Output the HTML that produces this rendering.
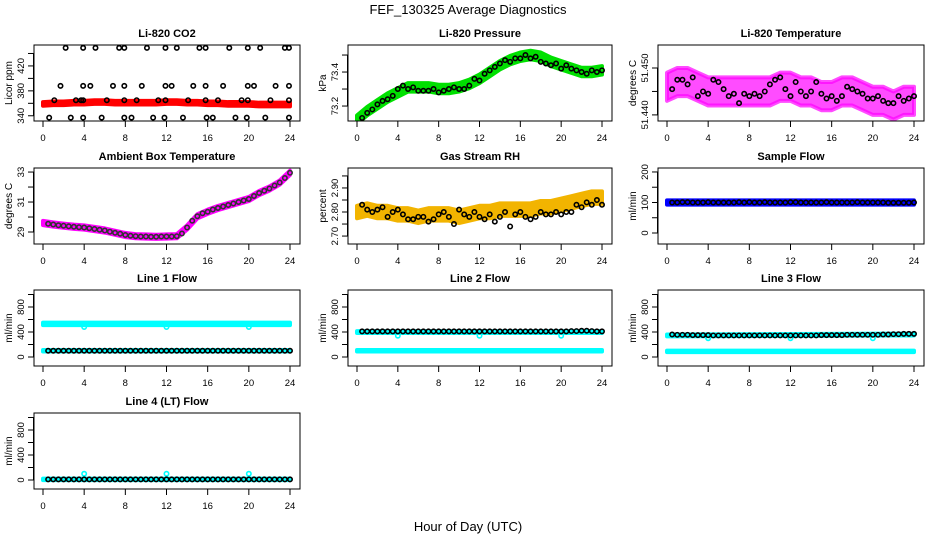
<!DOCTYPE html>
<html><head><meta charset="utf-8"><style>
html,body{margin:0;padding:0;background:#fff;}
svg{display:block;font-family:"Liberation Sans",sans-serif;}
</style></head><body>
<svg id="chart" width="936" height="540" viewBox="0 0 936 540">
<text x="468" y="14" text-anchor="middle" font-size="13">FEF_130325  Average Diagnostics</text>
<text x="468" y="531" text-anchor="middle" font-size="13">Hour of Day (UTC)</text>
</svg>
<script>
const hours=[0,1,2,3,4,5,6,7,8,9,10,11,12,13,14,15,16,17,18,19,20,21,22,23,24];
const halfHours=[0.5,1,1.5,2,2.5,3,3.5,4,4.5,5,5.5,6,6.5,7,7.5,8,8.5,9,9.5,10,10.5,11,11.5,12,12.5,13,13.5,14,14.5,15,15.5,16,16.5,17,17.5,18,18.5,19,19.5,20,20.5,21,21.5,22,22.5,23,23.5,24];
const xTicks=[0,4,8,12,16,20,24];
const endsT=[0,24];

const co2BandMid=[359,360,360,361,361,362,362,361,361,361,361,361,362,362,361,361,360,360,359,359,359,358,358,358,358];
const co2CircT=[2.2,3.9,5.1,7.4,7.9,10.1,11.9,13.0,15.2,15.8,18.1,19.9,21.1,23.5,23.9,1.7,3.9,4.6,6.8,7.9,9.6,11.9,12.5,14.6,15.8,17.5,19.9,20.5,22.6,23.9,1.1,3.2,3.7,3.9,6.2,7.9,9.1,11.2,11.9,14.1,15.8,17.0,19.3,19.9,22.1,23.9,0.6,2.7,3.9,5.7,7.9,8.6,10.7,11.8,13.6,15.9,16.5,18.7,19.8,21.6,23.9];
const co2CircV=[449,449,449,449,449,449,449,449,449,449,449,449,449,449,449,388,388,388,388,388,388,388,388,388,388,388,388,388,388,388,365,365,365,365,365,365,365,365,365,365,365,365,365,365,365,365,337,337,337,337,337,337,337,337,337,337,337,337,337,337,337];

const presBandMid=[73.12,73.17,73.21,73.25,73.28,73.31,73.31,73.31,73.30,73.30,73.31,73.33,73.36,73.40,73.44,73.47,73.49,73.50,73.49,73.46,73.44,73.42,73.40,73.40,73.41];
const presCircV=[73.13,73.16,73.18,73.21,73.23,73.24,73.26,73.30,73.32,73.30,73.31,73.29,73.29,73.29,73.30,73.28,73.29,73.30,73.31,73.30,73.30,73.32,73.36,73.35,73.39,73.41,73.43,73.45,73.47,73.46,73.48,73.48,73.50,73.48,73.49,73.46,73.45,73.44,73.45,73.42,73.44,73.42,73.41,73.40,73.39,73.41,73.40,73.41];

const tempBandMid=[51.446,51.447,51.447,51.446,51.445,51.445,51.445,51.445,51.445,51.445,51.445,51.446,51.446,51.445,51.445,51.444,51.444,51.445,51.445,51.444,51.443,51.443,51.442,51.443,51.443];
const tempCircV=[51.4455,51.4475,51.4475,51.4465,51.4480,51.4440,51.4450,51.4445,51.4475,51.4470,51.4455,51.4440,51.4445,51.4425,51.4445,51.4440,51.4445,51.4440,51.4450,51.4465,51.4475,51.4480,51.4455,51.4440,51.4470,51.4450,51.4440,51.4450,51.4470,51.4445,51.4435,51.4440,51.4430,51.4440,51.4460,51.4455,51.4450,51.4445,51.4435,51.4435,51.4440,51.4430,51.4425,51.4425,51.4440,51.4430,51.4435,51.4440];

const ambBandMid=[29.6,29.5,29.42,29.35,29.3,29.2,29.1,28.95,28.8,28.72,28.7,28.68,28.7,28.72,29.3,30.05,30.35,30.6,30.8,31.0,31.2,31.6,31.9,32.3,32.95];
const ambCircV=[29.55,29.5,29.45,29.42,29.38,29.35,29.32,29.3,29.25,29.2,29.15,29.1,29.02,28.95,28.88,28.8,28.75,28.72,28.7,28.7,28.68,28.68,28.7,28.7,28.7,28.72,28.9,29.3,29.75,30.05,30.25,30.35,30.5,30.6,30.7,30.8,30.9,31.0,31.1,31.2,31.4,31.6,31.75,31.9,32.1,32.3,32.6,32.95];

const rhBandMid=[2.80,2.81,2.80,2.80,2.79,2.79,2.78,2.79,2.79,2.79,2.78,2.79,2.80,2.80,2.81,2.81,2.81,2.81,2.82,2.82,2.83,2.84,2.85,2.86,2.86];
const rhCircV=[2.83,2.81,2.80,2.81,2.82,2.78,2.80,2.81,2.79,2.77,2.77,2.78,2.78,2.76,2.77,2.79,2.80,2.78,2.75,2.81,2.79,2.78,2.80,2.78,2.77,2.79,2.76,2.78,2.80,2.74,2.79,2.80,2.78,2.77,2.78,2.80,2.79,2.79,2.80,2.79,2.80,2.80,2.83,2.82,2.84,2.83,2.85,2.83];

const sampleBandMid=[100,100];
const sampleCircV=[100,100,101,101,100,100,100,101,100,100,100,100,100,101,100,101,100,100,101,100,100,100,100,101,101,100,100,100,100,100,101,100,100,100,100,100,101,100,100,100,100,100,99,99,99,99,99,100];

const line1HighMid=[530,530];
const line1LowMid=[100,100];
const line1CircV=[100,100,100,100,100,100,100,100,100,100,100,100,100,100,100,100,100,100,100,100,100,100,100,100,100,100,100,100,100,100,100,100,100,100,100,100,100,100,100,100,100,100,100,100,100,100,100,100];
const line1OutT=[4,12,20];
const line1OutV=[480,480,480];

const line2HighMid=[400,400];
const line2LowMid=[100,100];
const line2CircV=[410,410,410,410,410,410,410,410,410,410,410,410,410,410,410,410,410,410,410,410,410,410,410,410,410,410,410,410,410,410,410,410,410,410,410,410,410,410,410,410,410,415,415,420,420,415,410,410];
const line2OutT=[4,12,20];
const line2OutV=[340,340,340];

const line3HighMid=[345,360];
const line3LowMid=[90,90];
const line3CircV=[360,355,355,355,350,350,350,350,345,345,345,345,345,345,345,345,345,345,345,345,345,345,345,345,345,345,345,345,345,350,350,350,350,350,355,355,355,355,355,355,355,360,360,365,365,370,370,370];
const line3OutT=[4,12,20];
const line3OutV=[300,300,300];

const line4Mid=[10,10];
const line4CircV=[10,10,10,10,10,10,10,10,10,10,10,10,10,10,10,10,10,10,10,10,10,10,10,10,10,10,10,10,10,10,10,10,10,10,10,10,10,10,10,10,10,10,10,10,10,10,10,10];
const line4OutT=[4,12,20];
const line4OutV=[100,100,100];

const NS='http://www.w3.org/2000/svg';
const svg=document.getElementById('chart');
function mk(tag,attrs,parent){const e=document.createElementNS(NS,tag);for(const k in attrs)e.setAttribute(k,attrs[k]);(parent||svg).appendChild(e);return e;}

const colX=[[34,300],[348,612],[658,924]];
const rowY=[45,168,290,413];

function panel(p){
  const [x0,x1]=colX[p.col];const y0=rowY[p.row],y1=y0+76;
  const g=mk('g',{});
  
  
  const xs=t=>x0+9+t*(x1-x0-19)/24;
  const ys=v=>y1-(v-p.ylim[0])/(p.ylim[1]-p.ylim[0])*(y1-y0);
  const clip='c'+p.name;
  const cp=mk('clipPath',{id:clip},g);mk('rect',{x:x0,y:y0,width:x1-x0,height:y1-y0},cp);
  const plot=mk('g',{'clip-path':'url(#'+clip+')'},g);
  p.bands.forEach(b=>{
    let pts=[];
    b.t.forEach((t,i)=>pts.push(xs(t)+','+ys(b.mid[i]+b.hw)));
    for(let i=b.t.length-1;i>=0;i--)pts.push(xs(b.t[i])+','+ys(b.mid[i]-b.hw));
    const pl=mk('polygon',{points:pts.join(' '),fill:b.color,stroke:b.color,'stroke-width':4,'stroke-linejoin':'round','fill-opacity':b.op||1,'stroke-opacity':b.op||1},plot);
    
    
  });
  p.circles.forEach(c=>{
    c.t.forEach((t,i)=>{
      const ci=mk('circle',{cx:xs(t),cy:ys(c.v[i]),r:2.2,fill:'none',stroke:c.color,'stroke-width':1.6},plot);
      
      
    });
  });
  const box=mk('rect',{x:x0,y:y0,width:x1-x0,height:y1-y0,fill:'none',stroke:'#000','stroke-width':1},g);
  
  
  mk('line',{x1:xs(0),x2:xs(24),y1:y1,y2:y1,stroke:'#000'},g);
  xTicks.forEach(t=>{
    mk('line',{x1:xs(t),x2:xs(t),y1:y1,y2:y1+6,stroke:'#000'},g);
    const tx=mk('text',{x:xs(t),y:y1+20,'text-anchor':'middle','font-size':9.5},g);tx.textContent=t;
    
    
  });
  const yt=p.yticks;
  mk('line',{x1:x0-0.5,x2:x0-0.5,y1:ys(yt[0]),y2:ys(yt[yt.length-1]),stroke:'#000'},g);
  yt.forEach(v=>mk('line',{x1:x0-6,x2:x0,y1:ys(v),y2:ys(v),stroke:'#000'},g));
  p.ylabels.forEach((v,i)=>{
    const tx=mk('text',{x:0,y:0,'text-anchor':'middle','font-size':9.5,transform:'translate('+(x0-10)+','+ys(v)+') rotate(-90)'},g);
    tx.textContent=p.ylabelText[i];
    
    
  });
  const yl=mk('text',{x:0,y:0,'text-anchor':'middle','font-size':10,transform:'translate('+(x0-22)+','+((y0+y1)/2)+') rotate(-90)'},g);
  yl.textContent=p.ylab;
  
  
  const ti=mk('text',{x:(x0+x1)/2,y:y0-8,'text-anchor':'middle','font-size':11,'font-weight':'bold'},g);
  ti.textContent=p.title;
  
  
}

const flowTicks=[0,200,400,600,800,1000];
panel({name:'co2-panel',col:0,row:0,title:'Li-820 CO2',ylab:'Licor ppm',ylim:[331.6,453.6],yticks:[340,360,380,400,420,440],ylabels:[340,380,420],ylabelText:['340','380','420'],
  bands:[{name:'co2-band',t:hours,mid:co2BandMid,hw:3,color:'#ff0000'}],
  circles:[{name:'co2-hourly-point',t:co2CircT,v:co2CircV,color:'#000'}]});
panel({name:'pressure-panel',col:1,row:0,title:'Li-820 Pressure',ylab:'kPa',ylim:[73.112,73.559],yticks:[73.2,73.3,73.4,73.5],ylabels:[73.2,73.4],ylabelText:['73.2','73.4'],
  bands:[{name:'pressure-band',t:hours,mid:presBandMid,hw:0.025,color:'#00e000'}],
  circles:[{name:'pressure-point',t:halfHours,v:presCircV,color:'#000'}]});
panel({name:'li820-temp-panel',col:2,row:0,title:'Li-820 Temperature',ylab:'degrees C',ylim:[51.4387,51.4549],yticks:[51.44,51.445,51.45],ylabels:[51.44,51.45],ylabelText:['51.440','51.450'],
  bands:[{name:'li820-temp-band',t:hours,mid:tempBandMid,hw:0.003,color:'#ff00ff',op:0.7}],
  circles:[{name:'li820-temp-point',t:halfHours,v:tempCircV,color:'#000'}]});
panel({name:'ambient-temp-panel',col:0,row:1,title:'Ambient Box Temperature',ylab:'degrees C',ylim:[28.2,33.27],yticks:[29,30,31,32,33],ylabels:[29,31,33],ylabelText:['29','31','33'],
  bands:[{name:'ambient-temp-band',t:hours,mid:ambBandMid,hw:0.14,color:'#ff00ff'}],
  circles:[{name:'ambient-temp-point',t:halfHours,v:ambCircV,color:'#333'}]});
panel({name:'rh-panel',col:1,row:1,title:'Gas Stream RH',ylab:'percent',ylim:[2.667,2.983],yticks:[2.70,2.75,2.80,2.85,2.90,2.95],ylabels:[2.70,2.80,2.90],ylabelText:['2.70','2.80','2.90'],
  bands:[{name:'rh-band',t:hours,mid:rhBandMid,hw:0.026,color:'#f2b400'}],
  circles:[{name:'rh-point',t:halfHours,v:rhCircV,color:'#000'}]});
panel({name:'sample-flow-panel',col:2,row:1,title:'Sample Flow',ylab:'ml/min',ylim:[-36,213],yticks:[0,50,100,150,200],ylabels:[0,100,200],ylabelText:['0','100','200'],
  bands:[{name:'sample-flow-band',t:endsT,mid:sampleBandMid,hw:7,color:'#0000ff'}],
  circles:[{name:'sample-flow-point',t:halfHours,v:sampleCircV,color:'#000'}]});
panel({name:'line1-flow-panel',col:0,row:2,title:'Line 1 Flow',ylab:'ml/min',ylim:[-144,1072],yticks:flowTicks,ylabels:[0,400,800],ylabelText:['0','400','800'],
  bands:[{name:'line1-high-band',t:endsT,mid:line1HighMid,hw:20,color:'#00ffff'},{name:'line1-low-band',t:endsT,mid:line1LowMid,hw:12,color:'#00ffff'}],
  circles:[{name:'line1-outlier',t:line1OutT,v:line1OutV,color:'#00ffff'},{name:'line1-point',t:halfHours,v:line1CircV,color:'#000'}]});
panel({name:'line2-flow-panel',col:1,row:2,title:'Line 2 Flow',ylab:'ml/min',ylim:[-144,1072],yticks:flowTicks,ylabels:[0,400,800],ylabelText:['0','400','800'],
  bands:[{name:'line2-high-band',t:endsT,mid:line2HighMid,hw:15,color:'#00ffff'},{name:'line2-low-band',t:endsT,mid:line2LowMid,hw:12,color:'#00ffff'}],
  circles:[{name:'line2-outlier',t:line2OutT,v:line2OutV,color:'#00ffff'},{name:'line2-point',t:halfHours,v:line2CircV,color:'#000'}]});
panel({name:'line3-flow-panel',col:2,row:2,title:'Line 3 Flow',ylab:'ml/min',ylim:[-144,1072],yticks:flowTicks,ylabels:[0,400,800],ylabelText:['0','400','800'],
  bands:[{name:'line3-high-band',t:endsT,mid:line3HighMid,hw:15,color:'#00ffff'},{name:'line3-low-band',t:endsT,mid:line3LowMid,hw:12,color:'#00ffff'}],
  circles:[{name:'line3-outlier',t:line3OutT,v:line3OutV,color:'#00ffff'},{name:'line3-point',t:halfHours,v:line3CircV,color:'#000'}]});
panel({name:'line4-flow-panel',col:0,row:3,title:'Line 4 (LT) Flow',ylab:'ml/min',ylim:[-144,1072],yticks:flowTicks,ylabels:[0,400,800],ylabelText:['0','400','800'],
  bands:[{name:'line4-band',t:endsT,mid:line4Mid,hw:12,color:'#00ffff'}],
  circles:[{name:'line4-outlier',t:line4OutT,v:line4OutV,color:'#00ffff'},{name:'line4-point',t:halfHours,v:line4CircV,color:'#000'}]});
</script>
</body></html>
